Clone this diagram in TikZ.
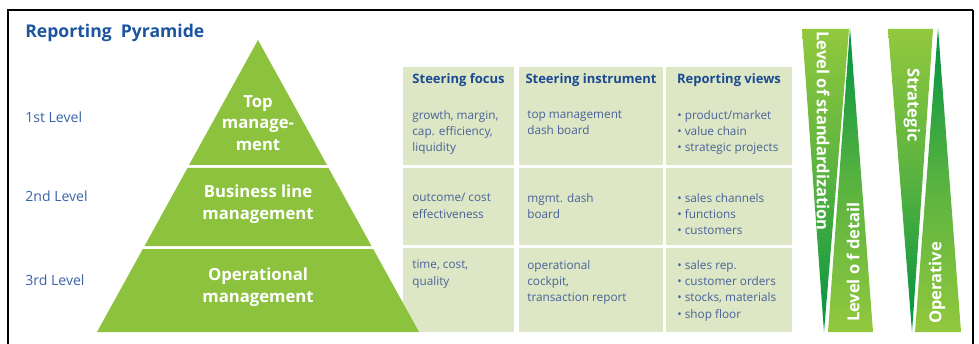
\documentclass[tikz,border=0pt]{standalone}
\usepackage{fontspec}
\setmainfont{Open Sans}
\usepackage{xcolor}

\definecolor{titleblue}{RGB}{28,84,158}
\definecolor{levelblue}{RGB}{58,98,168}
\definecolor{pyrgreen}{RGB}{141,194,62}
\definecolor{cellgreen}{RGB}{221,231,197}
\definecolor{headblue}{RGB}{26,74,146}
\definecolor{bodyblue}{RGB}{72,98,152}
\definecolor{lightgreen}{RGB}{146,200,62}
\definecolor{darkgreen}{RGB}{0,146,66}

\tikzset{
    leveltext/.style={anchor=west, inner sep=0pt, text=levelblue, font=\fontsize{8}{10}\selectfont},
    tiertext/.style={align=center, inner sep=0pt, text=white, font=\fontsize{9.5}{12.2}\selectfont\bfseries},
    headtext/.style={inner sep=0pt, text=headblue, font=\fontsize{7.4}{9}\selectfont\bfseries},
    bodytext/.style={anchor=north west, align=left, inner sep=0pt, text=bodyblue, font=\fontsize{6.7}{9.3}\selectfont},
    bandtext/.style={inner sep=0pt, text=white, font=\fontsize{9.4}{11}\selectfont\bfseries},
}

\begin{document}
\begin{tikzpicture}[x=0.02cm, y=-0.02cm]
    \useasboundingbox (0,0) rectangle (979,344);

    % frame, open at the bottom
    \draw[line width=1.7pt] (8,344) -- (8,10);
    \draw[line width=1.1pt] (7,10) -- (973,10);
    \draw[line width=0.6pt] (973,10) -- (973,344);

    \node[anchor=west, inner sep=0pt, text=titleblue, font=\fontsize{10}{12}\selectfont\bfseries]
        (title) at (25,33) {Reporting\ \ Pyramide};

    % table cells
    \foreach \xa/\xb in {403/514, 519/663, 666/792}
        \foreach \ya/\yb in {67/165, 168/245, 248/332}
            \fill[cellgreen] (\xa,\ya) rectangle (\xb,\yb);

    \node[headtext] (focus) at (458.5,80) {Steering focus};
    \node[headtext] (instr) at (591,80) {Steering instrument};
    \node[headtext] (views) at (729,80) {Reporting views};

    \node[bodytext] (f1) at (412,110) {growth, margin,\\cap. efficiency,\\liquidity};
    \node[bodytext] (i1) at (527,110) {top management\\dash board};
    \node[bodytext] (v1) at (677,110) {\textbullet\ product/market\\\textbullet\ value chain\\\textbullet\ strategic projects};

    \node[bodytext] (f2) at (412,193) {outcome/ cost\\effectiveness};
    \node[bodytext] (i2) at (527,193) {mgmt. dash\\board};
    \node[bodytext] (v2) at (677,193) {\textbullet\ sales channels\\\textbullet\ functions\\\textbullet\ customers};

    \node[bodytext] (f3) at (412,260) {time, cost,\\quality};
    \node[bodytext] (i3) at (527,260) {operational\\cockpit,\\transaction report};
    \node[bodytext] (v3) at (677,260) {\textbullet\ sales rep.\\\textbullet\ customer orders\\\textbullet\ stocks, materials\\\textbullet\ shop floor};

    % pyramid
    \fill[pyrgreen] (258,40) -- (327,165) -- (189,165) -- cycle;
    \fill[pyrgreen] (187.5,168) -- (328.5,168) -- (371.5,246) -- (144.5,246) -- cycle;
    \fill[pyrgreen] (142.8,249) -- (373.2,249) -- (419,332) -- (97,332) -- cycle;

    \node[tiertext] (top) at (258,123) {Top\\manage-\\ment};
    \node[tiertext] (business) at (258,204) {Business line\\management};
    \node[tiertext] (operational) at (258,287) {Operational\\management};

    \node[leveltext] (first) at (25,117) {1st Level};
    \node[leveltext] (second) at (25,196) {2nd Level};
    \node[leveltext] (third) at (25,280) {3rd Level};

    % bands on the right
    \shade[top color=lightgreen, bottom color=darkgreen, middle color=lightgreen!60!darkgreen]
        (802,29) -- (849,29) -- (824,332) -- cycle;
    \shade[top color=darkgreen, bottom color=lightgreen, middle color=lightgreen!60!darkgreen]
        (850,28) -- (873,332) -- (828,332) -- cycle;
    \shade[top color=lightgreen, bottom color=darkgreen, middle color=lightgreen!60!darkgreen]
        (888,29) -- (933,29) -- (912,332) -- cycle;
    \shade[top color=darkgreen, bottom color=lightgreen, middle color=lightgreen!60!darkgreen]
        (938,28) -- (961,332) -- (915,332) -- cycle;

    \node[bandtext, rotate=-90] (standard) at (823,131) {Level of standardization};
    \node[bandtext, rotate=90] (detail) at (853,262) {Level o f detail};
    \node[bandtext, rotate=-90] (strategic) at (912,105) {Strategic};
    \node[bandtext, rotate=90] (operative) at (937,283) {Operative};
\end{tikzpicture}
\end{document}
